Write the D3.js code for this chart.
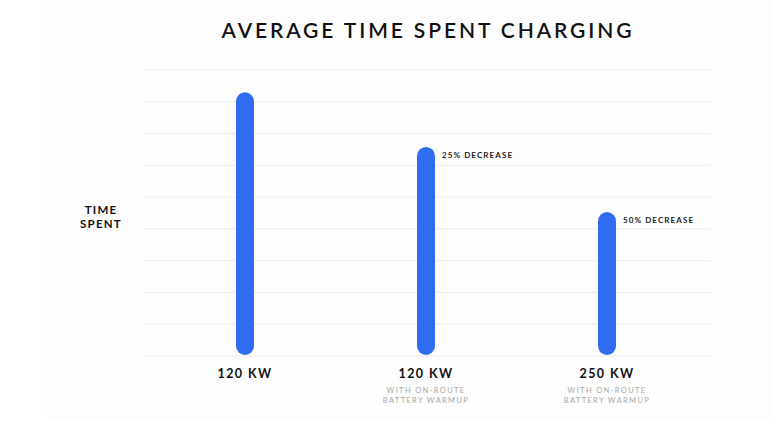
<!DOCTYPE html>
<html>
<head>
<meta charset="utf-8">
<script src="https://cdn.jsdelivr.net/npm/d3@7"></script>
<style>
  body { margin: 0; background: #fff; }
  text { font-family: "Lato", "Open Sans", sans-serif; }
</style>
</head>
<body>
<div id="chart"></div>
<script>
var width = 782
var height = 437

// data (time in grid units)
var categories = ['120 KW', '120 KW ', '250 KW']
var subLabels = [[], ['WITH ON-ROUTE', 'BATTERY WARMUP'], ['WITH ON-ROUTE', 'BATTERY WARMUP']]
var timeSpent = [8.3, 6.58, 4.53]
var notes = ['', '25% DECREASE', '50% DECREASE']
var gridTicks = [0, 1, 2, 3, 4, 5, 6, 7, 8, 9]

var svg = d3.select('#chart')
            .append('svg')
            .attr('width', width)
            .attr('height', height);

// faint panel behind the chart
svg.append('rect')
   .attr('x', 47).attr('y', 0)
   .attr('width', 726).attr('height', 420)
   .attr('fill', '#fdfdfd');

var x = d3.scaleBand()
          .domain(categories)
          .range([154.5, 697.5]);

var y = d3.scaleLinear()
          .domain([0, 9])
          .range([356, 70]);

var barWidth = 18;

// gridlines
svg.append('g')
   .selectAll('line')
   .data(gridTicks)
   .enter()
   .append('line')
   .attr('x1', 143)
   .attr('x2', 711)
   .attr('y1', function(d){ return y(d); })
   .attr('y2', function(d){ return y(d); })
   .attr('stroke', '#ececec')
   .attr('stroke-width', 1);

// title
svg.append('text')
   .attr('x', 428)
   .attr('y', 38)
   .attr('text-anchor', 'middle')
   .attr('font-size', 21)
   .attr('font-weight', 600)
   .attr('letter-spacing', 2.9)
   .attr('fill', '#111')
   .text('AVERAGE TIME SPENT CHARGING');

// y label
var yl = svg.append('text')
   .attr('text-anchor', 'middle')
   .attr('font-size', 11.5)
   .attr('font-weight', 700)
   .attr('letter-spacing', 1.2)
   .attr('fill', '#111');
yl.append('tspan').attr('x', 101).attr('y', 214).text('TIME');
yl.append('tspan').attr('x', 101).attr('y', 228).text('SPENT');

// bars
var bars = svg.selectAll('g.bar')
              .data(categories)
              .enter()
              .append('g')
              .attr('class', 'bar');

bars.append('rect')
    .attr('x', function(d){ return x(d) + x.bandwidth() / 2 - barWidth / 2; })
    .attr('y', function(d, i){ return y(timeSpent[i]); })
    .attr('width', barWidth)
    .attr('height', function(d, i){ return y(0) - 1 - y(timeSpent[i]); })
    .attr('rx', barWidth / 2)
    .attr('fill', '#2f6cf2');

// notes next to bars
bars.append('text')
    .attr('x', function(d){ return x(d) + x.bandwidth() / 2 + 16; })
    .attr('y', function(d, i){ return y(timeSpent[i]) + 11; })
    .attr('font-size', 8)
    .attr('font-weight', 700)
    .attr('letter-spacing', 1.1)
    .attr('fill', '#222')
    .text(function(d, i){ return notes[i]; });

// category labels
bars.append('text')
    .attr('x', function(d){ return x(d) + x.bandwidth() / 2; })
    .attr('y', 378)
    .attr('text-anchor', 'middle')
    .attr('font-size', 12.5)
    .attr('font-weight', 700)
    .attr('letter-spacing', 1.4)
    .attr('fill', '#111')
    .text(function(d){ return d.trim(); });

bars.each(function(d, i){
    d3.select(this).selectAll('text.sub')
      .data(subLabels[i])
      .enter()
      .append('text')
      .attr('class', 'sub')
      .attr('x', x(d) + x.bandwidth() / 2)
      .attr('y', function(s, j){ return 393 + j * 10; })
      .attr('text-anchor', 'middle')
      .attr('font-size', 7.5)
      .attr('letter-spacing', 1.35)
      .attr('fill', '#a8a8a8')
      .text(function(s){ return s; });
});
</script>
</body>
</html>
